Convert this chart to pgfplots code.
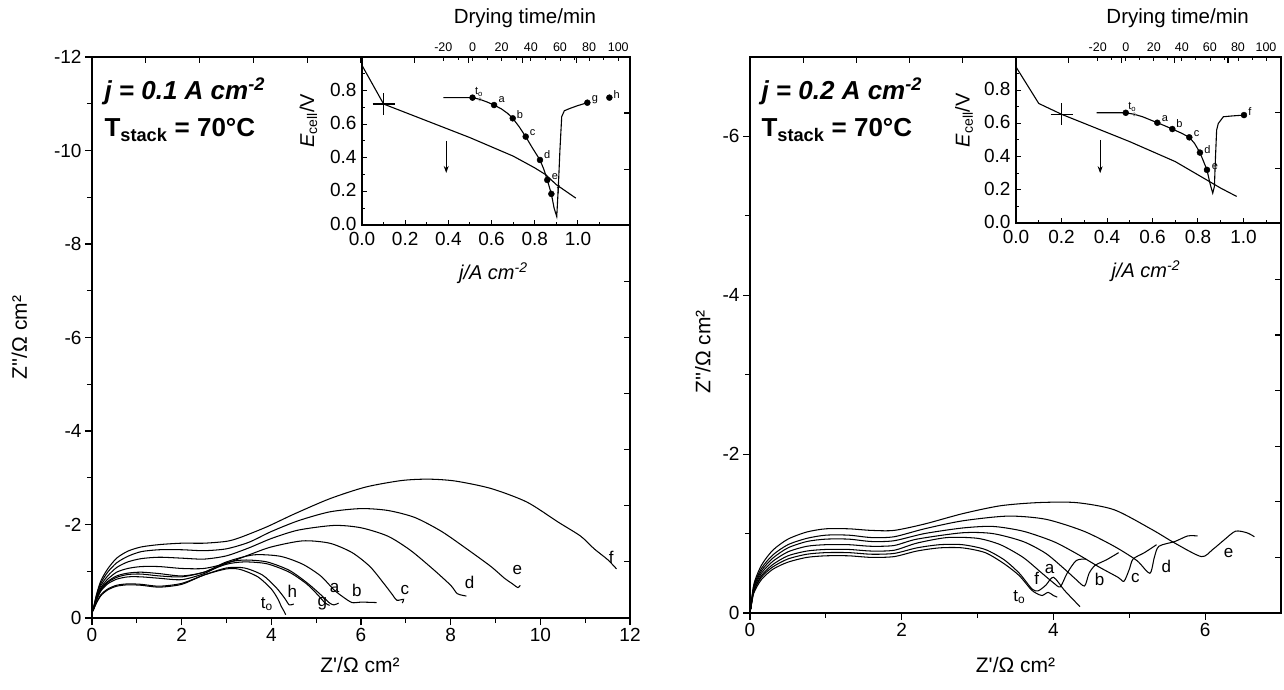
\documentclass[border=0pt]{standalone}
\usepackage{pgfplots}
\pgfplotsset{compat=1.18}
\usepackage{fontspec}
\setmainfont{Liberation Sans}
\usetikzlibrary{arrows.meta}
\newcommand{\fs}[1]{\fontsize{#1}{#1}\selectfont}
\newcommand{\Zp}{Z\textquotesingle/Ω cm²}
\newcommand{\Zpp}{Z\textquotesingle\textquotesingle/Ω cm²}
\tikzset{lab/.style={font=\fs{17}}, slab/.style={font=\fs{11}}}
\pgfplotsset{
  mainax/.style={scale only axis, anchor=south west,
    axis line style={line width=1.3pt}, tick style={line width=1.2pt,black},
    major tick length=7pt, minor tick length=5pt, tick align=outside,
    xtick pos=left, ytick pos=left,
    ticklabel style={font=\fs{19}}, label style={font=\fs{21}},
    clip=false},
  oppax/.style={scale only axis, anchor=south west,
    xmin=0,xmax=10,ymin=0,ymax=10, xtick={0,...,10}, ytick={0,...,10},
    xticklabels={}, yticklabels={}, xtick pos=right, ytick pos=right,
    tick align=inside, major tick length=6pt,
    axis line style={line width=1.3pt}, tick style={line width=1.2pt,black}},
  insax/.style={scale only axis, anchor=south west, ymin=0, ymax=1,
    axis line style={line width=1.1pt}, tick style={line width=1pt,black},
    tick align=inside, major tick length=5pt, minor tick length=3pt,
    xtick pos=left, ytick pos=left,
    xtick={0,0.2,0.4,0.6,0.8,1.0}, xticklabels={0.0,0.2,0.4,0.6,0.8,1.0},
    minor xtick={0.1,0.3,0.5,0.7,0.9,1.1},
    ytick={0,0.2,0.4,0.6,0.8}, yticklabels={0.0,0.2,0.4,0.6,0.8},
    minor ytick={0.1,0.3,0.5,0.7,0.9},
    ticklabel style={font=\fs{19}},
    xticklabel style={yshift=-4pt}, yticklabel style={xshift=-2pt, yshift=1pt},
    label style={font=\fs{20}},
    xlabel={\itshape j/A cm\textsuperscript{-2}},
    ylabel={\textit{E}\textsubscript{cell}/V}},
  timeax/.style={scale only axis, anchor=south west, ymin=0, ymax=1,
    axis x line*=top, axis y line=none,
    axis line style={line width=1.1pt}, tick style={line width=0.8pt,black},
    xtick={-20,0,20,40,60,80,100}, xticklabels={-20,0,20,40,60,80,100},
    minor x tick num=1, tick align=inside, major tick length=4pt, minor tick length=3pt,
    xticklabel style={font=\fs{12.5}, yshift=2pt},
    xlabel={Drying time/min}, label style={font=\fs{20.5}}},
  nyq/.style={black, line width=1.05pt, smooth, tension=0.45},
  tc/.style={black, line width=1.1pt},
  dots/.style={only marks, mark=*, mark size=3pt, black}
}
\begin{document}
\begin{tikzpicture}
\path[use as bounding box] (0,0) rectangle (1284pt,690pt);

% ================= LEFT MAIN =================
\begin{axis}[mainax, at={(92pt,72pt)}, width=538pt, height=561pt,
  xmin=0, xmax=12, ymin=0, ymax=12,
  xtick={0,2,4,6,8,10,12}, xticklabels={0,2,4,6,8,10,12}, minor xtick={1,3,5,7,9,11},
  ytick={0,2,4,6,8,10,12}, yticklabels={0,-2,-4,-6,-8,-10,-12}, minor ytick={1,3,5,7,9,11},
  xlabel={\Zp}, ylabel={\Zpp},
  xlabel style={at={(axis description cs:0.498,-0.084)}, anchor=center},
  ylabel style={at={(axis description cs:-0.135,0.5)}, anchor=center}]
\addplot[nyq] coordinates {(0.02,0.15)(0.1,0.32)(0.2,0.48)(0.35,0.6)(0.55,0.68)(0.8,0.71)(1.1,0.7)(1.5,0.66)(2.0,0.72)(2.5,0.92)(3.0,1.05)(3.3,1.04)(3.7,0.88)(4.0,0.62)(4.15,0.4)(4.22,0.25)(4.28,0.15)(4.32,0.07)};
\addplot[nyq] coordinates {(0.02,0.15)(0.1,0.33)(0.2,0.5)(0.35,0.62)(0.55,0.7)(0.8,0.73)(1.1,0.72)(1.5,0.68)(2.0,0.74)(2.5,0.92)(3.0,1.07)(3.4,1.07)(3.8,0.92)(4.1,0.66)(4.3,0.42)(4.4,0.28)(4.5,0.3)};
\addplot[nyq] coordinates {(0.02,0.15)(0.1,0.4)(0.2,0.6)(0.35,0.76)(0.55,0.87)(0.8,0.93)(1.1,0.94)(1.5,0.9)(2.0,0.88)(2.5,0.98)(3.0,1.15)(3.4,1.2)(3.9,1.16)(4.4,0.98)(4.8,0.72)(5.05,0.48)(5.2,0.32)(5.3,0.27)};
\addplot[nyq] coordinates {(0.02,0.15)(0.1,0.38)(0.2,0.58)(0.35,0.73)(0.55,0.83)(0.8,0.88)(1.1,0.88)(1.5,0.85)(2.0,0.82)(2.5,0.95)(3.0,1.18)(3.4,1.24)(3.9,1.2)(4.4,1.02)(4.8,0.75)(5.1,0.5)(5.3,0.32)(5.4,0.28)(5.5,0.32)};
\addplot[nyq] coordinates {(0.02,0.15)(0.1,0.4)(0.2,0.62)(0.35,0.78)(0.55,0.9)(0.8,0.96)(1.1,0.98)(1.5,0.95)(2.0,0.9)(2.5,0.98)(3.0,1.2)(3.6,1.35)(4.2,1.32)(4.7,1.15)(5.1,0.9)(5.4,0.6)(5.6,0.45)(5.8,0.33)(6.0,0.34)(6.35,0.33)};
\addplot[nyq] coordinates {(0.02,0.15)(0.1,0.42)(0.2,0.65)(0.35,0.83)(0.55,0.98)(0.8,1.06)(1.1,1.1)(1.5,1.1)(2.0,1.06)(2.5,1.06)(3.0,1.17)(3.5,1.35)(4.0,1.52)(4.7,1.65)(5.3,1.6)(5.8,1.4)(6.2,1.1)(6.5,0.75)(6.7,0.5)(6.8,0.38)(6.95,0.4)(6.92,0.32)};
\addplot[nyq] coordinates {(0.02,0.15)(0.1,0.45)(0.2,0.7)(0.35,0.9)(0.55,1.08)(0.8,1.2)(1.1,1.27)(1.5,1.3)(2.0,1.28)(2.5,1.26)(3.0,1.33)(3.5,1.5)(4.0,1.7)(4.6,1.88)(5.4,1.98)(6.0,1.93)(6.6,1.75)(7.1,1.45)(7.6,1.05)(8.0,0.7)(8.15,0.52)(8.35,0.47)};
\addplot[nyq] coordinates {(0.02,0.15)(0.1,0.48)(0.2,0.75)(0.35,0.98)(0.55,1.18)(0.8,1.32)(1.1,1.42)(1.5,1.46)(2.0,1.46)(2.5,1.44)(3.0,1.48)(3.5,1.62)(4.0,1.85)(4.6,2.08)(5.3,2.27)(6.0,2.34)(6.6,2.3)(7.2,2.15)(7.8,1.85)(8.4,1.45)(8.9,1.1)(9.2,0.85)(9.35,0.75)(9.5,0.65)(9.55,0.7)};
\addplot[nyq] coordinates {(0.02,0.15)(0.1,0.5)(0.2,0.8)(0.35,1.05)(0.55,1.28)(0.8,1.43)(1.1,1.52)(1.5,1.57)(2.0,1.6)(2.5,1.6)(3.0,1.64)(3.3,1.72)(3.9,1.95)(4.5,2.22)(5.3,2.55)(6.1,2.8)(6.9,2.94)(7.5,2.97)(8.1,2.93)(8.9,2.77)(9.7,2.48)(10.4,2.05)(10.9,1.75)(11.2,1.48)(11.5,1.25)(11.7,1.05)};
\node[lab] at (axis cs:11.58,1.3) {f};
\node[lab] at (axis cs:9.49,1.02) {e};
\node[lab] at (axis cs:8.42,0.77) {d};
\node[lab] at (axis cs:6.98,0.59) {c};
\node[lab] at (axis cs:5.91,0.59) {b};
\node[lab] at (axis cs:5.41,0.64) {a};
\node[lab] at (axis cs:5.14,0.31) {g};
\node[lab] at (axis cs:4.47,0.57) {h};
\node[lab] at (axis cs:3.9,0.3) {t\textsubscript{o}};
\end{axis}
\begin{axis}[oppax, at={(92pt,72pt)}, width=538pt, height=561pt]
\end{axis}

% left inset
\begin{axis}[insax, at={(362pt,465pt)}, width=268pt, height=168pt, xmin=0, xmax=1.241,
  xlabel style={at={(axis description cs:0.49,-0.286)}, anchor=center},
  ylabel style={at={(axis description cs:-0.20,0.62)}, anchor=center}]
\addplot[tc] coordinates {(0,0.95)(0.1,0.72)(0.2,0.67)(0.3,0.62)(0.4,0.57)(0.5,0.52)(0.6,0.465)(0.7,0.41)(0.8,0.34)(0.85,0.30)(0.9,0.24)(0.99,0.16)};
\addplot[only marks, mark=+, mark size=11pt, mark options={line width=1.1pt}] coordinates {(0.1,0.72)};
\addplot[-{Stealth[length=7pt,width=5pt]}, line width=0.9pt] coordinates {(0.39,0.50)(0.39,0.31)};
\end{axis}
\begin{axis}[timeax, at={(362pt,465pt)}, width=268pt, height=168pt, xmin=-75.8, xmax=108.05,
  xlabel style={at={(axis description cs:0.608,1.232)}, anchor=center}]
\addplot[tc] coordinates {(-20,0.758)(0,0.758)(5,0.748)(10,0.732)(14.8,0.714)(20,0.69)(24,0.665)(27.6,0.635)(32,0.585)(36.5,0.526)(41,0.46)(46.3,0.387)(49,0.33)(51.3,0.268)(54.1,0.185)(56,0.1)(57.8,0.05)(58.9,0.23)(60,0.45)(61.2,0.645)(63,0.68)(66.9,0.694)(72,0.71)(78.8,0.728)};
\addplot[dots] coordinates {(0,0.758)(14.8,0.714)(27.6,0.635)(36.5,0.526)(46.3,0.387)(51.3,0.268)(54.1,0.185)(78.8,0.728)(93.9,0.758)};
\addplot[only marks, mark=o, mark size=1.8pt, gray] coordinates {(5,0.748)};
\node[slab] at (axis cs:4.5,0.79) {t\textsubscript{o}};
\node[slab] at (axis cs:20.05,0.744) {a};
\node[slab] at (axis cs:32.6,0.655) {b};
\node[slab] at (axis cs:41.3,0.55) {c};
\node[slab] at (axis cs:51.3,0.417) {d};
\node[slab] at (axis cs:56.6,0.29) {e};
\node[slab] at (axis cs:58.9,0.21) {f};
\node[slab] at (axis cs:84,0.744) {g};
\node[slab] at (axis cs:98.9,0.774) {h};
\end{axis}

\node[anchor=base west, font=\fs{26}\bfseries\itshape] at (101pt,590pt) {j = 0.1 A cm\textsuperscript{-2}};
\node[anchor=base west, font=\fs{26}\bfseries] at (101pt,553pt) {T\textsubscript{stack} = 70°C};

% ================= RIGHT MAIN =================
\begin{axis}[mainax, at={(750pt,77pt)}, width=531pt, height=556pt,
  xmin=0, xmax=7, ymin=0, ymax=7,
  xtick={0,2,4,6}, xticklabels={0,2,4,6}, minor xtick={1,3,5},
  ytick={0,2,4,6}, yticklabels={0,-2,-4,-6}, minor ytick={1,3,5},
  xlabel={\Zp}, ylabel={\Zpp},
  xlabel style={at={(axis description cs:0.5,-0.094)}, anchor=center},
  ylabel style={at={(axis description cs:-0.089,0.47)}, anchor=center}]
\addplot[nyq] coordinates {(0.01,0.05)(0.05,0.25)(0.15,0.42)(0.3,0.55)(0.5,0.64)(0.75,0.7)(1.0,0.72)(1.3,0.72)(1.6,0.7)(1.9,0.71)(2.2,0.78)(2.5,0.82)(2.8,0.82)(3.1,0.76)(3.35,0.62)(3.55,0.47)(3.7,0.3)(3.77,0.25)(3.85,0.22)(3.93,0.26)(4.0,0.22)(4.05,0.2)};
\addplot[nyq] coordinates {(0.01,0.05)(0.05,0.27)(0.15,0.45)(0.3,0.58)(0.5,0.68)(0.75,0.74)(1.0,0.76)(1.3,0.76)(1.6,0.74)(1.9,0.75)(2.2,0.82)(2.5,0.86)(2.8,0.86)(3.1,0.8)(3.35,0.67)(3.55,0.5)(3.72,0.3)(3.8,0.28)(3.9,0.35)(4.0,0.45)(4.15,0.28)(4.35,0.08)};
\addplot[nyq] coordinates {(0.01,0.05)(0.05,0.28)(0.15,0.47)(0.3,0.61)(0.5,0.72)(0.75,0.78)(1.0,0.8)(1.3,0.8)(1.6,0.78)(1.9,0.79)(2.2,0.88)(2.6,0.95)(3.0,0.94)(3.3,0.86)(3.6,0.7)(3.85,0.5)(4.0,0.38)(4.09,0.33)(4.18,0.5)(4.3,0.66)(4.43,0.68)};
\addplot[nyq] coordinates {(0.01,0.05)(0.05,0.3)(0.15,0.5)(0.3,0.65)(0.5,0.77)(0.75,0.84)(1.0,0.86)(1.3,0.86)(1.6,0.84)(1.9,0.85)(2.2,0.93)(2.8,1.01)(3.2,1.0)(3.6,0.9)(3.9,0.75)(4.15,0.55)(4.3,0.42)(4.41,0.34)(4.47,0.5)(4.55,0.6)(4.7,0.67)(4.86,0.76)};
\addplot[nyq] coordinates {(0.01,0.05)(0.05,0.32)(0.15,0.53)(0.3,0.69)(0.5,0.82)(0.75,0.9)(1.0,0.93)(1.3,0.93)(1.6,0.9)(1.9,0.91)(2.3,1.0)(2.8,1.07)(3.2,1.09)(3.6,1.03)(4.0,0.9)(4.3,0.75)(4.6,0.58)(4.85,0.45)(4.93,0.4)(5.0,0.55)(5.05,0.68)(5.2,0.76)(5.36,0.86)};
\addplot[nyq] coordinates {(0.01,0.05)(0.05,0.34)(0.15,0.56)(0.3,0.73)(0.5,0.86)(0.75,0.94)(1.0,0.98)(1.3,0.98)(1.6,0.95)(1.9,0.96)(2.3,1.06)(2.8,1.16)(3.4,1.22)(3.9,1.18)(4.4,1.03)(4.8,0.84)(5.1,0.66)(5.27,0.5)(5.33,0.7)(5.39,0.84)(5.6,0.9)(5.77,0.97)(5.9,0.97)};
\addplot[nyq] coordinates {(0.01,0.05)(0.05,0.36)(0.15,0.6)(0.3,0.79)(0.5,0.93)(0.75,1.02)(1.0,1.06)(1.3,1.06)(1.6,1.04)(1.9,1.04)(2.3,1.12)(2.8,1.25)(3.3,1.35)(3.8,1.39)(4.3,1.39)(4.8,1.3)(5.3,1.05)(5.6,0.88)(5.95,0.71)(6.1,0.8)(6.25,0.92)(6.4,1.03)(6.55,1.01)(6.65,0.96)};
\node[lab] at (axis cs:6.31,0.76) {e};
\node[lab] at (axis cs:5.49,0.59) {d};
\node[lab] at (axis cs:5.08,0.44) {c};
\node[lab] at (axis cs:4.61,0.42) {b};
\node[lab] at (axis cs:3.95,0.55) {a};
\node[lab] at (axis cs:3.78,0.44) {f};
\node[lab] at (axis cs:3.55,0.2) {t\textsubscript{o}};
\end{axis}
\begin{axis}[oppax, at={(750pt,77pt)}, width=531pt, height=556pt]
\end{axis}

% right inset
\begin{axis}[insax, at={(1016pt,467pt)}, width=265pt, height=166pt, xmin=0, xmax=1.165,
  xlabel style={at={(axis description cs:0.49,-0.29)}, anchor=center},
  ylabel style={at={(axis description cs:-0.196,0.62)}, anchor=center}]
\addplot[tc] coordinates {(0,0.94)(0.1,0.72)(0.2,0.655)(0.3,0.60)(0.4,0.545)(0.5,0.49)(0.6,0.43)(0.7,0.37)(0.8,0.29)(0.9,0.21)(0.97,0.16)};
\addplot[only marks, mark=+, mark size=11pt, mark options={line width=1.1pt}] coordinates {(0.2,0.655)};
\addplot[-{Stealth[length=7pt,width=5pt]}, line width=0.9pt] coordinates {(0.37,0.50)(0.37,0.30)};
\end{axis}
\begin{axis}[timeax, at={(1016pt,467pt)}, width=265pt, height=166pt, xmin=-78.25, xmax=110.7,
  xlabel style={at={(axis description cs:0.61,1.232)}, anchor=center}]
\addplot[tc] coordinates {(-20.7,0.664)(0,0.664)(6,0.655)(12,0.64)(22.5,0.604)(28,0.585)(33.2,0.566)(40,0.54)(45.3,0.516)(49,0.48)(52.9,0.424)(55.5,0.37)(57.9,0.32)(60,0.24)(62,0.18)(63.2,0.22)(64,0.4)(64.8,0.56)(66,0.6)(69.6,0.64)(76,0.645)(84.3,0.65)};
\addplot[dots] coordinates {(0,0.664)(22.5,0.604)(33.2,0.566)(45.3,0.516)(52.9,0.424)(57.9,0.32)(84.3,0.65)};
\addplot[only marks, mark=o, mark size=1.8pt, gray] coordinates {(6,0.655)};
\node[slab] at (axis cs:4.7,0.70) {t\textsubscript{o}};
\node[slab] at (axis cs:28,0.63) {a};
\node[slab] at (axis cs:38.2,0.596) {b};
\node[slab] at (axis cs:50.6,0.54) {c};
\node[slab] at (axis cs:58.2,0.44) {d};
\node[slab] at (axis cs:63.6,0.34) {e};
\node[slab] at (axis cs:88.6,0.67) {f};
\end{axis}

\node[anchor=base west, font=\fs{26}\bfseries\itshape] at (758pt,590pt) {j = 0.2 A cm\textsuperscript{-2}};
\node[anchor=base west, font=\fs{26}\bfseries] at (758pt,553pt) {T\textsubscript{stack} = 70°C};
\end{tikzpicture}
\end{document}
